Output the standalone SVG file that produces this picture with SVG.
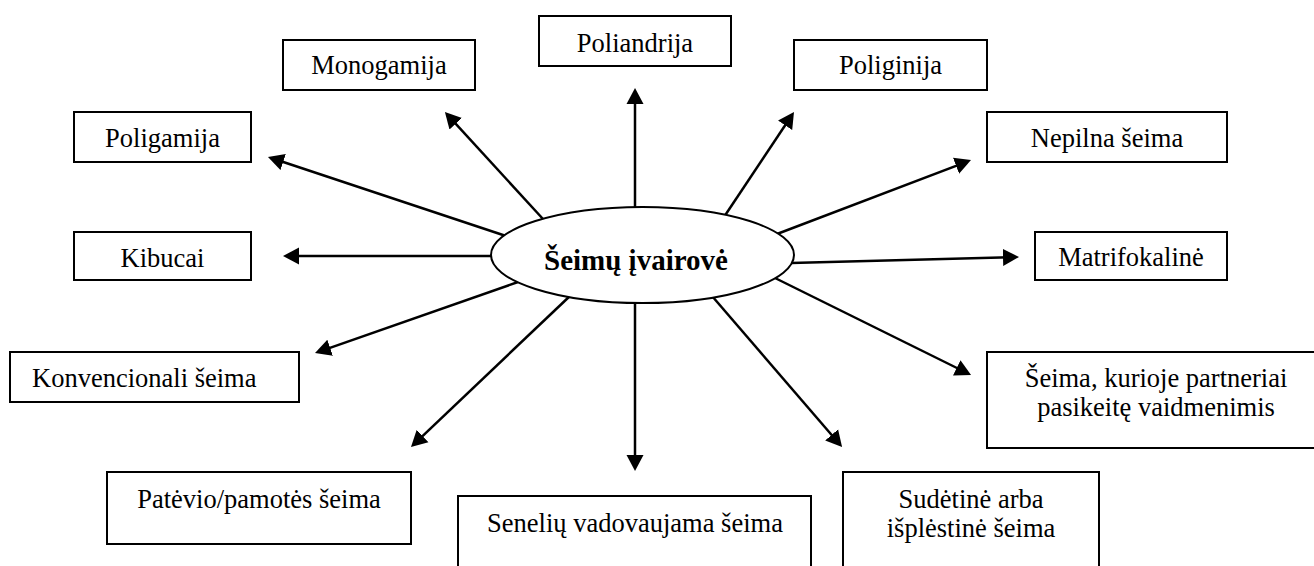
<svg xmlns="http://www.w3.org/2000/svg" width="1314" height="566" viewBox="0 0 1314 566">
<defs>
<style>
.box{fill:#fff;stroke:#000;stroke-width:2}
.t{font-family:"Liberation Serif","Times New Roman",serif;font-size:26.5px;fill:#000;text-anchor:middle}
.c line{stroke:#000;stroke-width:2.5;marker-end:url(#ah)}
</style>
<marker id="ah" markerUnits="userSpaceOnUse" markerWidth="18" markerHeight="18" refX="7" refY="9" orient="auto" viewBox="0 0 18 18">
<path d="M0,0.5 L16,9 L0,17.5 z" fill="#000"/>
</marker>
</defs>
<rect width="1314" height="566" fill="#fff"/>
<g id="connectors" class="c">
<line x1="635" y1="210" x2="635" y2="97"/>
<line x1="543" y1="219" x2="451" y2="118.6"/>
<line x1="724" y1="217" x2="789" y2="119.5"/>
<line x1="777" y1="234" x2="962.6" y2="163.3"/>
<line x1="506" y1="236" x2="276.5" y2="159.8"/>
<line x1="494" y1="256" x2="292" y2="256"/>
<line x1="791" y1="263" x2="1010" y2="257.2"/>
<line x1="518" y1="282" x2="323.5" y2="350.1"/>
<line x1="775" y1="278" x2="963" y2="371"/>
<line x1="571" y1="295" x2="417.5" y2="440.8"/>
<line x1="635" y1="300" x2="635" y2="462"/>
<line x1="712" y1="296" x2="836.2" y2="440.2"/>
</g>
<g id="center">
<ellipse cx="642.5" cy="255" rx="151.5" ry="48" fill="#fff" stroke="#000" stroke-width="2"/>
<text x="636" y="270" class="t" style="font-weight:bold;font-size:29px">Šeimų įvairovė</text>
</g>
<g id="monogamija"><rect class="box" x="283" y="40" width="192" height="50"/><text class="t" x="379" y="74">Monogamija</text></g>
<g id="poliandrija"><rect class="box" x="539" y="16" width="192" height="50"/><text class="t" x="635" y="51.7">Poliandrija</text></g>
<g id="poliginija"><rect class="box" x="794" y="40" width="193" height="50"/><text class="t" x="890.5" y="74">Poliginija</text></g>
<g id="poligamija"><rect class="box" x="74" y="112" width="177" height="50"/><text class="t" x="162.5" y="146.7">Poligamija</text></g>
<g id="nepilna"><rect class="box" x="987" y="112" width="240" height="50"/><text class="t" x="1107" y="146.7">Nepilna šeima</text></g>
<g id="kibucai"><rect class="box" x="74" y="232" width="177" height="48"/><text class="t" x="162.5" y="266.7">Kibucai</text></g>
<g id="matrifokaline"><rect class="box" x="1035" y="232" width="192" height="48"/><text class="t" x="1131" y="265.7">Matrifokalinė</text></g>
<g id="konvencionali"><rect class="box" x="10" y="352" width="289" height="50"/><text class="t" x="32" y="386.7" style="text-anchor:start">Konvencionali šeima</text></g>
<g id="pasikeite"><rect class="box" x="987" y="352" width="340" height="96"/><text class="t" x="1156" y="386.7">Šeima, kurioje partneriai</text><text class="t" x="1156" y="415.7">pasikeitę vaidmenimis</text></g>
<g id="patevio"><rect class="box" x="107" y="472" width="304" height="72"/><text class="t" x="259" y="508.3">Patėvio/pamotės šeima</text></g>
<g id="seneliu"><rect class="box" x="458" y="496" width="353" height="80"/><text class="t" x="635" y="531.7">Senelių vadovaujama šeima</text></g>
<g id="sudetine"><rect class="box" x="843" y="472" width="256" height="104"/><text class="t" x="971" y="508.3">Sudėtinė arba</text><text class="t" x="971" y="536.7">išplėstinė šeima</text></g>
</svg>
